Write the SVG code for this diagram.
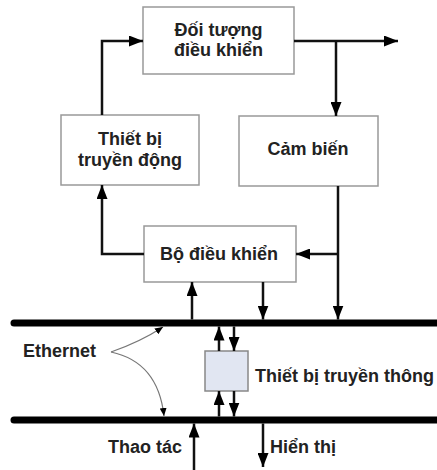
<svg xmlns="http://www.w3.org/2000/svg" width="437" height="470" viewBox="0 0 437 470">
<style>
.box{fill:#fff;stroke:#999;stroke-width:1.5}
.comm{fill:#e1e6f2;stroke:#888;stroke-width:1.5}
.t{font-family:"Liberation Sans",Arial,sans-serif;font-size:18px;font-weight:bold;fill:#222}
.c{text-anchor:middle}
.w{fill:none;stroke:#111;stroke-width:2.5;marker-end:url(#ah)}
.bus{fill:none;stroke:#000;stroke-width:7;stroke-linecap:round}
.eth{fill:none;stroke:#777;stroke-width:1.2;marker-end:url(#sa)}
</style>
<defs>
<marker id="ah" markerUnits="userSpaceOnUse" markerWidth="14" markerHeight="11" refX="14" refY="5.5" orient="auto">
<path d="M0,0 L14,5.5 L0,11 z" fill="#000"/>
</marker>
<marker id="sa" markerUnits="userSpaceOnUse" markerWidth="8" markerHeight="7" refX="8" refY="3.5" orient="auto">
<path d="M0,0 L8,3.5 L0,7 z" fill="#000"/>
</marker>
</defs>
<g id="bus-top"><path class="bus" d="M14,323 H440"/></g>
<g id="bus-bottom"><path class="bus" d="M14,420 H440"/></g>
<g id="doi-tuong">
<rect class="box" x="143" y="7" width="151" height="67"/>
<text class="t c" x="218.5" y="36">Đối tượng</text>
<text class="t c" x="218.5" y="56">điều khiển</text>
</g>
<g id="thiet-bi-truyen-dong">
<rect class="box" x="61" y="115" width="138" height="70"/>
<text class="t c" x="130" y="145">Thiết bị</text>
<text class="t c" x="130" y="166">truyền động</text>
</g>
<g id="cam-bien">
<rect class="box" x="239" y="116" width="139" height="70"/>
<text class="t c" x="308" y="155">Cảm biến</text>
</g>
<g id="bo-dieu-khien">
<rect class="box" x="144" y="226" width="152" height="56"/>
<text class="t c" x="219" y="260">Bộ điều khiển</text>
</g>
<g id="thiet-bi-truyen-thong">
<rect class="comm" x="205" y="351" width="43" height="40"/>
<text class="t" x="255" y="382">Thiết bị truyền thông</text>
</g>
<g id="ethernet">
<text class="t" x="23" y="357">Ethernet</text>
</g>
<g id="thao-tac"><text class="t" x="108" y="453">Thao tác</text></g>
<g id="hien-thi"><text class="t" x="270" y="453">Hiển thị</text></g>
<g id="connectors">
<path class="w" d="M294,41 H398"/>
<path class="w" d="M336,41 V116"/>
<path class="w" d="M102,115 V41 H143"/>
<path class="w" d="M144,254 H102 V185"/>
<path class="w" d="M338,186 V319.5"/>
<path class="w" d="M338,254 H296"/>
<path class="w" d="M192,319.5 V282"/>
<path class="w" d="M263,282 V319.5"/>
<path class="w" d="M219,351 V326.5"/>
<path class="w" d="M234,326.5 V351"/>
<path class="w" d="M219,416.5 V391"/>
<path class="w" d="M234,391 V416.5"/>
<path class="w" d="M194,470 V423.5"/>
<path class="w" d="M263,423.5 V467"/>
<path class="eth" d="M111,352 Q140,342 163,327"/>
<path class="eth" d="M111,352 Q158,362 164,416"/>
</g>
</svg>
